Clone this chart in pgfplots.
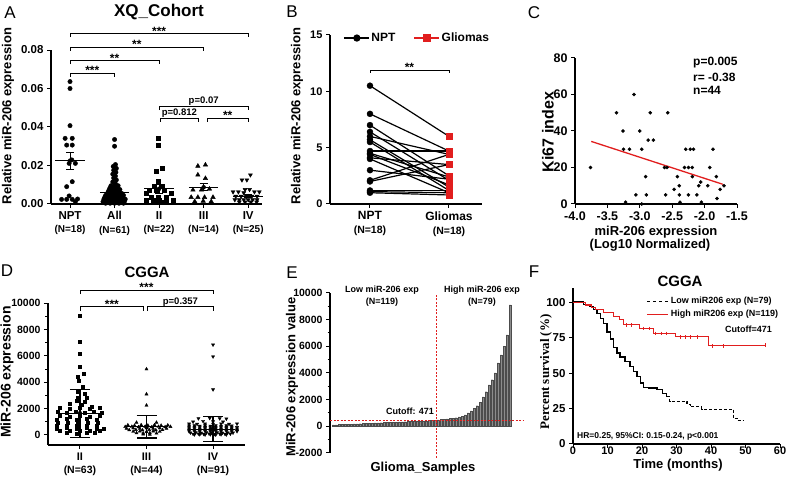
\documentclass[border=0pt]{standalone}
\usepackage{fontspec}
\setmainfont{Liberation Sans}
\newfontfamily\serifbf{Liberation Serif}
\usepackage{pgfplots}
\pgfplotsset{compat=1.18}
\newcommand{\fs}[1]{\fontsize{#1}{#1}\selectfont}
\definecolor{gpred}{RGB}{225,30,30}
\pgfplotsset{
  gp/.style={
    scale only axis, clip=false, anchor=south west,
    axis x line=bottom, axis y line=left,
    axis line style={-, line width=1.1pt},
    every tick/.style={black, line width=1pt},
    tick align=outside,
    major tick length=4pt, minor tick length=2.5pt,
    /pgf/number format/assume math mode=true,
    scaled ticks=false,
    ticklabel style={font=\fs{11}\bfseries},
    xticklabel style={align=center},
  },
  emean/.style={only marks, mark=none, black, error bars/y dir=both, error bars/y explicit,
     error bars/error bar style={line width=1pt, black}},
}
\begin{document}
\begin{tikzpicture}
\path[use as bounding box] (0,0) rectangle (794pt,481pt);

% ================= Panel A =================
\begin{axis}[gp, at={(51pt,277pt)}, width=211pt, height=154pt,
  xmin=-0.427, xmax=4.31, ymin=0, ymax=0.08,
  ytick={0,0.02,0.04,0.06,0.08},
  yticklabel style={/pgf/number format/.cd, fixed, fixed zerofill, precision=2},
  xtick={0,1,2,3,4},
  xticklabels={{NPT\\[2pt]{\fs{10}(N=18)}},{All\\[2pt]{\fs{10}(N=61)}},{II\\[2pt]{\fs{10}(N=22)}},{III\\[2pt]{\fs{10}(N=14)}},{IV\\[2pt]{\fs{10}(N=25)}}},
  ticklabel style={font=\fs{11.5}\bfseries},
]
\addplot[only marks, mark=*, mark size=2.2pt, black] coordinates {
(0,0.0636) (0,0.060) (0,0.0407) (-0.11,0.0341) (0.05,0.0341) (-0.075,0.0306) (0.05,0.0306)
(0.04,0.0229) (-0.02,0.0211) (0.12,0.0211) (0.05,0.0116) (-0.075,0.009) (-0.02,0.0042)
(-0.19,0.0024) (-0.075,0.0024) (0.05,0.0024) (0.17,0.0026) (0.12,0.0012)};
\addplot[only marks, mark=*, mark size=2.2pt, black] coordinates {
(1,0.0335) (1,0.030) (1.02,0.0205) (0.97,0.0195) (1.04,0.0185) (0.98,0.0175) (1.03,0.0165)
(0.96,0.0155) (1.02,0.0145) (0.98,0.0135) (1.04,0.0125) (0.96,0.0115) (1.02,0.0105)
(0.92,0.0095) (1.0,0.0095) (1.08,0.0095) (0.9,0.0085) (0.98,0.0085) (1.06,0.0085)
(0.88,0.0075) (0.96,0.0075) (1.04,0.0075) (1.12,0.0075) (0.86,0.0065) (0.94,0.0065)
(1.02,0.0065) (1.1,0.0065) (0.84,0.0055) (0.92,0.0055) (1.0,0.0055) (1.08,0.0055) (1.16,0.0055)
(0.8,0.0045) (0.88,0.0045) (0.96,0.0045) (1.04,0.0045) (1.12,0.0045) (1.2,0.0045)
(0.78,0.0035) (0.86,0.0035) (0.94,0.0035) (1.02,0.0035) (1.1,0.0035) (1.18,0.0035)
(0.76,0.0025) (0.84,0.0025) (0.92,0.0025) (1.0,0.0025) (1.08,0.0025) (1.16,0.0025) (1.24,0.0025)
(0.74,0.0012) (0.82,0.0012) (0.9,0.0012) (0.98,0.0012) (1.06,0.0012) (1.14,0.0012) (1.22,0.0012)
(0.8,0.0004) (0.9,0.0004) (1.0,0.0004) (1.1,0.0004) (1.2,0.0004)};
\addplot[only marks, mark=square*, mark size=2pt, black] coordinates {
(1.99,0.0341) (1.99,0.0306) (2.07,0.0185) (1.93,0.0168) (1.99,0.0116) (1.88,0.0094) (2.07,0.0094)
(1.78,0.0073) (1.93,0.0073) (2.12,0.0073) (1.71,0.0055) (2.27,0.0055) (1.82,0.0035) (1.97,0.0035)
(2.16,0.0035) (1.71,0.0021) (1.86,0.0021) (2.01,0.0021) (2.16,0.0021) (2.31,0.0021) (1.9,0.0008) (2.1,0.0008)};
\addplot[only marks, mark=triangle*, mark size=2.6pt, black] coordinates {
(2.87,0.0197) (3.04,0.0203) (2.87,0.0151) (3.04,0.0133) (2.76,0.0073) (2.95,0.0073) (3.13,0.0078)
(2.72,0.0035) (2.87,0.0035) (3.02,0.0035) (3.21,0.0035) (2.8,0.0013) (2.99,0.0015) (3.17,0.0013)};
\addplot[only marks, mark=triangle*, mark size=2.3pt, mark options={rotate=180}, black] coordinates {
(4.05,0.0151) (3.86,0.0125) (3.97,0.0125) (3.93,0.0075) (4.03,0.0075) (3.66,0.0063) (3.78,0.0063)
(3.9,0.0058) (4.14,0.0063) (4.25,0.0063) (3.72,0.004) (3.84,0.004) (3.96,0.004) (4.08,0.004)
(4.2,0.004) (3.7,0.0022) (3.8,0.0022) (3.9,0.0022) (4.0,0.0022) (4.1,0.0022) (4.2,0.0022)
(3.8,0.001) (3.93,0.001) (4.06,0.001) (4.19,0.001)};
% means
\addplot[black, line width=1pt] coordinates {(-0.33,0.0225) (0.33,0.0225)};
\addplot[black, line width=1pt] coordinates {(0.67,0.0062) (1.33,0.0062)};
\addplot[black, line width=1pt] coordinates {(1.67,0.0079) (2.33,0.0079)};
\addplot[black, line width=1pt] coordinates {(2.67,0.0087) (3.33,0.0087)};
\addplot[black, line width=1pt] coordinates {(3.67,0.0041) (4.33,0.0041)};
\addplot[emean, error bars/error mark options={rotate=90, black, line width=1pt, mark size=4pt}] coordinates {
(0,0.0225) +- (0,0.0045) (1,0.0062) +- (0,0.0012) (2,0.0079) +- (0,0.0024)
(3,0.0087) +- (0,0.0017) (4,0.0041) +- (0,0.0008)};
% brackets
\draw[line width=0.8pt] (axis cs:0,0.0867) -- (axis cs:0,0.0888) -- (axis cs:4,0.0888) -- (axis cs:4,0.0867);
\node[anchor=base, inner sep=0pt, font=\fs{12}\bfseries, yshift=-2pt] at (axis cs:2,0.0888) {***};
\draw[line width=0.8pt] (axis cs:0,0.0795) -- (axis cs:0,0.0816) -- (axis cs:3,0.0816) -- (axis cs:3,0.0795);
\node[anchor=base, inner sep=0pt, font=\fs{12}\bfseries, yshift=-2pt] at (axis cs:1.5,0.0816) {**};
\draw[line width=0.8pt] (axis cs:0,0.0727) -- (axis cs:0,0.0748) -- (axis cs:2,0.0748) -- (axis cs:2,0.0727);
\node[anchor=base, inner sep=0pt, font=\fs{12}\bfseries, yshift=-2pt] at (axis cs:1,0.0748) {**};
\draw[line width=0.8pt] (axis cs:0,0.066) -- (axis cs:0,0.0681) -- (axis cs:1,0.0681) -- (axis cs:1,0.066);
\node[anchor=base, inner sep=0pt, font=\fs{12}\bfseries, yshift=-2pt] at (axis cs:0.5,0.0681) {***};
\draw[line width=0.8pt] (axis cs:2,0.0488) -- (axis cs:2,0.0509) -- (axis cs:4,0.0509) -- (axis cs:4,0.0488);
\node[anchor=base, inner sep=0pt, font=\fs{9.5}\bfseries, yshift=3pt] at (axis cs:3,0.0509) {p=0.07};
\draw[line width=0.8pt] (axis cs:2.03,0.0426) -- (axis cs:2.03,0.0447) -- (axis cs:2.88,0.0447) -- (axis cs:2.88,0.0426);
\node[anchor=base, inner sep=0pt, font=\fs{9.5}\bfseries, yshift=2.5pt] at (axis cs:2.455,0.0447) {p=0.812};
\draw[line width=0.8pt] (axis cs:3.08,0.0426) -- (axis cs:3.08,0.0447) -- (axis cs:4,0.0447) -- (axis cs:4,0.0426);
\node[anchor=base, inner sep=0pt, font=\fs{12}\bfseries, yshift=-2pt] at (axis cs:3.54,0.0447) {**};
\end{axis}

% ================= Panel B =================
\begin{axis}[gp, at={(330pt,277pt)}, width=152pt, height=169pt,
  xmin=-0.506, xmax=1.418, ymin=0, ymax=15,
  ytick={0,5,10,15},
  xtick={0,1},
  xticklabels={{NPT\\[2pt]{\fs{10.5}(N=18)}},{Gliomas\\[2pt]{\fs{10.5}(N=18)}}},
  xticklabel style={font=\fs{12}\bfseries},
  yticklabel style={font=\fs{11}\bfseries},
  legend style={at={(axis description cs:0.086,0.982)}, anchor=west, draw=none, fill=none,
     legend columns=2, font=\fs{12}\bfseries, inner sep=0pt,
     /tikz/every even column/.append style={column sep=16pt}},
  legend image code/.code={\draw[mark repeat=2,mark phase=2,#1] plot coordinates {(0pt,0pt) (13pt,0pt) (25pt,0pt)};},
]
\addlegendimage{black, line width=1.2pt, mark=*, mark size=3pt}
\addlegendentry{NPT}
\addlegendimage{gpred, line width=1.2pt, mark=square*, mark size=3pt}
\addlegendentry{Gliomas}
\addplot[black, line width=1.2pt] coordinates {(0,10.5) (1,6.0)};
\addplot[black, line width=1.2pt] coordinates {(0,8.0) (1,4.7)};
\addplot[black, line width=1.2pt] coordinates {(0,7.0) (1,2.5)};
\addplot[black, line width=1.2pt] coordinates {(0,6.4) (1,2.1)};
\addplot[black, line width=1.2pt] coordinates {(0,6.0) (1,4.4)};
\addplot[black, line width=1.2pt] coordinates {(0,5.7) (1,1.5)};
\addplot[black, line width=1.2pt] coordinates {(0,5.5) (1,1.2)};
\addplot[black, line width=1.2pt] coordinates {(0,4.7) (1,4.7)};
\addplot[black, line width=1.2pt] coordinates {(0,4.5) (1,2.4)};
\addplot[black, line width=1.2pt] coordinates {(0,4.4) (1,1.7)};
\addplot[black, line width=1.2pt] coordinates {(0,4.1) (1,3.5)};
\addplot[black, line width=1.2pt] coordinates {(0,4.0) (1,1.0)};
\addplot[black, line width=1.2pt] coordinates {(0,3.0) (1,2.2)};
\addplot[black, line width=1.2pt] coordinates {(0,2.1) (1,4.4)};
\addplot[black, line width=1.2pt] coordinates {(0,2.0) (1,3.5)};
\addplot[black, line width=1.2pt] coordinates {(0,1.2) (1,1.2)};
\addplot[black, line width=1.2pt] coordinates {(0,1.1) (1,1.0)};
\addplot[black, line width=1.2pt] coordinates {(0,1.0) (1,0.8)};
\addplot[only marks, mark=*, mark size=3pt, black] coordinates {
(0,10.5) (0,8.0) (0,7.0) (0,6.4) (0,6.0) (0,5.7) (0,5.5) (0,4.7) (0,4.5) (0,4.4) (0,4.1) (0,4.0)
(0,3.0) (0,2.1) (0,2.0) (0,1.2) (0,1.1) (0,1.0)};
\addplot[only marks, mark=square*, mark size=3pt, gpred] coordinates {
(1,6.0) (1,4.7) (1,2.5) (1,2.1) (1,4.4) (1,1.5) (1,1.2) (1,4.7) (1,2.4) (1,1.7) (1,3.5) (1,1.0)
(1,2.2) (1,4.4) (1,3.5) (1,1.2) (1,1.0) (1,0.8)};
\draw[line width=0.8pt] (axis cs:0,11.65) -- (axis cs:0,11.9) -- (axis cs:1,11.9) -- (axis cs:1,11.65);
\node[anchor=base, inner sep=0pt, font=\fs{12}\bfseries, yshift=-2pt] at (axis cs:0.5,11.9) {**};
\end{axis}

% ================= Panel C =================
\begin{axis}[gp, at={(575pt,277pt)}, width=162pt, height=146pt,
  xmin=-4, xmax=-1.5, ymin=0, ymax=80,
  xtick={-4,-3.5,-3,-2.5,-2,-1.5}, ytick={0,20,40,60,80},
  xticklabel style={/pgf/number format/.cd, fixed, fixed zerofill, precision=1},
  ticklabel style={font=\fs{12.5}\bfseries},
]
\addplot[only marks, mark=*, mark size=1.6pt, black] coordinates {
(-3.76,20) (-3.36,50) (-3.26,40) (-3.25,30) (-3.16,30) (-3.22,1) (-3.09,60) (-3.06,5)
(-3.0,40) (-2.97,0) (-2.97,30) (-2.91,15) (-2.90,5) (-2.87,35) (-2.84,50) (-2.79,35)
(-2.60,5) (-2.62,20) (-2.58,20) (-2.57,50) (-2.47,8) (-2.42,15) (-2.39,10) (-2.39,5)
(-2.38,1) (-2.31,20) (-2.29,30) (-2.25,5) (-2.25,20) (-2.22,30) (-2.19,20) (-2.19,15)
(-2.17,30) (-2.12,5) (-2.09,10) (-2.06,12) (-2.05,1) (-1.95,10) (-1.92,20) (-1.87,30)
(-1.82,15) (-1.81,3) (-1.76,8) (-1.70,10)};
\addplot[gpred, line width=1.3pt] coordinates {(-3.75,34.3) (-1.72,10.8)};
\end{axis}

% ================= Panel D =================
\begin{axis}[gp, at={(48pt,36pt)}, width=197pt, height=141.7pt,
  xmin=-0.48, xmax=2.48, ymin=-760, ymax=10000,
  ytick={0,2000,4000,6000,8000,10000}, minor y tick num=1,
  yticklabel style={/pgf/number format/.cd, 1000 sep={}},
  xtick={0,1,2},
  xticklabels={{II\\[2pt]{\fs{10.5}(N=63)}},{III\\[2pt]{\fs{10.5}(N=44)}},{IV\\[2pt]{\fs{10.5}(N=91)}}},
  ticklabel style={font=\fs{10.5}\bfseries},
  xticklabel style={font=\fs{11}\bfseries},
]
\addplot[only marks, mark=square*, mark size=1.5pt, black] coordinates {
(0,9050) (0,7100) (0,6150) (0,5150) (0.05,4650) (-0.03,4400) (-0.02,4100) (0.04,3650) (-0.03,3300)
(0.07,3150) (-0.04,2850) (0.1,2800) (-0.05,2600) (0.07,2550) (-0.15,2350) (0.03,2300) (0.18,2150)
(-0.3,2050) (-0.15,2000) (0,2050) (0.15,2000) (0.3,2050)
(-0.33,1750) (-0.2,1700) (-0.07,1750) (0.07,1700) (0.2,1750) (0.33,1700)
(-0.3,1450) (-0.15,1400) (0,1450) (0.15,1400) (0.3,1450)
(-0.35,1150) (-0.2,1200) (-0.05,1150) (0.1,1200) (0.25,1150)
(-0.33,900) (-0.18,950) (-0.03,900) (0.12,950) (0.27,900)
(-0.35,700) (-0.2,720) (-0.05,700) (0.1,720) (0.25,700)
(-0.35,500) (-0.2,520) (-0.05,480) (0.1,520) (0.25,500) (0.36,480)
(-0.3,330) (-0.15,350) (0,320) (0.15,350) (0.3,330)
(-0.2,150) (-0.05,130) (0.1,160) (0.22,140)};
\addplot[only marks, mark=triangle*, mark size=1.8pt, black] coordinates {
(1,5000) (1,3100) (1,2250) (0.85,950) (1.15,950)
(0.72,750) (0.82,720) (0.92,760) (1.02,730) (1.12,760) (1.22,720) (1.32,740)
(0.68,620) (0.78,640) (0.88,610) (0.98,640) (1.08,610) (1.18,640) (1.28,610) (1.36,630)
(0.7,500) (0.8,520) (0.9,490) (1.0,520) (1.1,490) (1.2,520) (1.3,500)
(0.74,380) (0.84,400) (0.94,370) (1.04,400) (1.14,370) (1.24,390)
(0.8,260) (0.9,280) (1.0,250) (1.1,280) (1.2,260)
(0.85,150) (0.95,130) (1.05,150) (1.15,130) (0.95,50) (1.05,40)};
\addplot[only marks, mark=triangle*, mark size=1.8pt, mark options={rotate=180}, black] coordinates {
(2,6850) (2,5950) (2,3450)
(1.78,1250) (1.95,1280) (2.1,1250) (2.2,1230)
(1.7,1000) (1.85,1050) (2.0,1020) (2.15,1000)
(1.64,850) (1.76,830) (1.88,860) (2.0,840) (2.12,860) (2.24,830) (2.36,850)
(1.64,700) (1.72,720) (1.8,690) (1.88,720) (1.96,690) (2.04,720) (2.12,690) (2.2,720) (2.28,700)
(1.64,580) (1.72,600) (1.8,570) (1.88,600) (1.96,570) (2.04,600) (2.12,570) (2.2,600) (2.28,580) (2.36,590)
(1.64,470) (1.72,490) (1.8,460) (1.88,490) (1.96,460) (2.04,490) (2.12,460) (2.2,490) (2.28,470) (2.36,480)
(1.64,370) (1.72,390) (1.8,360) (1.88,390) (1.96,360) (2.04,390) (2.12,360) (2.2,390) (2.28,370) (2.36,380)
(1.64,270) (1.72,290) (1.8,260) (1.88,290) (1.96,260) (2.04,290) (2.12,260) (2.2,290) (2.28,270) (2.36,280)
(1.66,170) (1.74,190) (1.82,160) (1.9,190) (1.98,160) (2.06,190) (2.14,160) (2.22,180) (2.3,170)
(1.7,80) (1.78,100) (1.86,70) (1.94,100) (2.02,70) (2.1,100) (2.18,70) (2.26,90)
(1.72,30) (1.8,40) (1.88,20) (1.96,40) (2.04,20) (2.12,40) (2.2,30)};
\addplot[black, line width=1.3pt] coordinates {(-0.33,1650) (0.33,1650)};
\addplot[black, line width=1.3pt] coordinates {(0.67,620) (1.33,620)};
\addplot[black, line width=1.3pt] coordinates {(1.67,440) (2.33,440)};
\addplot[emean, error bars/error bar style={line width=1.3pt}, error bars/error mark options={rotate=90, black, line width=1.3pt, mark size=10pt}] coordinates {
(0,1650) +- (0,1825) (1,620) +- (0,850) (2,440) +- (0,960)};
\draw[line width=0.8pt] (axis cs:0,10700) -- (axis cs:0,11010) -- (axis cs:2,11010) -- (axis cs:2,10700);
\node[anchor=base, inner sep=0pt, font=\fs{12}\bfseries, yshift=-2pt] at (axis cs:1,11010) {***};
\draw[line width=0.8pt] (axis cs:0,9440) -- (axis cs:0,9760) -- (axis cs:0.96,9760) -- (axis cs:0.96,9440);
\node[anchor=base, inner sep=0pt, font=\fs{12}\bfseries, yshift=-2pt] at (axis cs:0.48,9760) {***};
\draw[line width=0.8pt] (axis cs:1.02,9440) -- (axis cs:1.02,9760) -- (axis cs:2,9760) -- (axis cs:2,9440);
\node[anchor=base, inner sep=0pt, font=\fs{9.5}\bfseries, yshift=2pt] at (axis cs:1.51,9760) {p=0.357};
\end{axis}

% ================= Panel E =================
\begin{axis}[gp, at={(330pt,28pt)}, width=193pt, height=160pt,
  axis x line=none,
  xmin=0, xmax=64.33, ymin=-2000, ymax=10000,
  ytick={-2000,0,2000,4000,6000,8000,10000}, minor y tick num=1,
  yticklabel style={/pgf/number format/.cd, 1000 sep={}},
  ticklabel style={font=\fs{10.5}\bfseries},
]
\addplot[ybar, bar width=2pt, fill=black!45, draw=black!70, line width=0.3pt] coordinates {
(1,100) (2,115) (3,130) (4,140) (5,150) (6,160) (7,170) (8,180) (9,190) (10,200)
(11,210) (12,220) (13,230) (14,240) (15,250) (16,260) (17,270) (18,280) (19,290) (20,300)
(21,310) (22,320) (23,330) (24,340) (25,350) (26,360) (27,370) (28,380) (29,390) (30,400)
(31,410) (32,420) (33,435) (34,450) (35,465)
(36,490) (37,510) (38,530) (39,550) (40,580) (41,600) (42,650) (43,700) (44,750) (45,850)
(46,1000) (47,1150) (48,1350) (49,1550) (50,1800) (51,2200) (52,2600) (53,3100) (54,3500) (55,4000)
(56,4750) (57,5350) (58,6000) (59,6850) (60,9100)};
\addplot[gpred, line width=0.9pt, dash pattern=on 2pt off 1.5pt] coordinates {(0,471) (64.33,471)};
\addplot[gpred, line width=0.9pt, dash pattern=on 2pt off 1.5pt] coordinates {(35.5,-2375) (35.5,9850)};
\end{axis}

% ================= Panel F =================
\begin{axis}[gp, at={(573pt,37pt)}, width=207pt, height=156pt,
  xmin=0, xmax=60, ymin=0, ymax=110,
  xtick={0,10,20,30,40,50,60}, ytick={0,25,50,75,100},
  ticklabel style={font=\fs{11.5}\bfseries},
  xticklabel style={font=\fs{11}\bfseries, inner sep=1pt, yshift=2pt},
  legend style={at={(axis description cs:0.353,0.872)}, anchor=west, draw=none, fill=none,
     font=\fs{9}\bfseries, inner sep=0pt, row sep=1pt},
  legend cell align=left,
  legend image code/.code={\draw[#1] (0pt,0pt) -- (21pt,0pt);},
]
\addlegendimage{black, line width=1.6pt, dash pattern=on 3pt off 3pt}
\addlegendentry{Low miR206 exp (N=79)}
\addlegendimage{gpred, line width=1.1pt}
\addlegendentry{High miR206 exp (N=119)}
\addplot[const plot mark left, black, line width=1.5pt] coordinates {
(0,100) (3,98.5) (4.9,97) (5.9,95) (6.9,92) (7.9,88.5) (8.8,85) (9.8,79) (10.8,74) (11.7,68)
(12.7,64) (13.6,61.5) (15,58) (16.5,54.5) (17.5,51) (18.5,47.5) (19.5,43) (20.4,40) (22,39.5)
(24.3,38.5) (26,35.5) (27.1,33.4)};
\addplot[const plot mark left, black, line width=1.5pt, dash pattern=on 3pt off 2pt] coordinates {
(27.1,33.4) (28,30) (33,28) (34,26.3) (37.3,24.5) (46.5,18) (47.5,16.5) (49.4,16.5)};
\addplot[const plot mark left, gpred, line width=1.1pt] coordinates {
(0,100) (3.5,98) (5.4,96) (6.4,95) (8.8,93) (11.7,90) (13.6,87.5) (14.6,84) (19.4,81.5)
(23.3,78) (29.6,75.5) (39.2,69.2) (55.7,69.2)};
\addplot[only marks, mark=|, mark size=1.8pt, gpred, line width=0.8pt] coordinates {
(15.5,84) (17,84) (20.5,81.5) (22,81.5) (24,78) (25.5,78) (27,78) (31,75.5) (32.5,75.5) (34,75.5)
(36,75.5) (40.5,69.2) (43.5,69.2) (55.7,69.8)};
\end{axis}

% ================= Text =================
\node[anchor=base, inner sep=0pt, font=\fs{17}] at (10pt,462pt) {A};
\node[anchor=base, inner sep=0pt, font=\fs{17}] at (292pt,463pt) {B};
\node[anchor=base, inner sep=0pt, font=\fs{17}] at (534pt,462pt) {C};
\node[anchor=base, inner sep=0pt, font=\fs{17}] at (7pt,204pt) {D};
\node[anchor=base, inner sep=0pt, font=\fs{17}] at (292pt,202pt) {E};
\node[anchor=base, inner sep=0pt, font=\fs{17}] at (534pt,203pt) {F};

\node[anchor=base, inner sep=0pt, font=\fs{17}\bfseries] at (159pt,464pt) {XQ\_Cohort};
\node[rotate=90, inner sep=0pt, font=\fs{13}\bfseries] at (8pt,365pt) {Relative miR-206 expression};
\node[rotate=90, inner sep=0pt, font=\fs{13}\bfseries] at (297pt,365pt) {Relative miR-206 expression};

\node[rotate=90, inner sep=0pt, font=\fs{16}\bfseries] at (548pt,349pt) {Ki67 index};
\node[inner sep=0pt, font=\fs{13}\bfseries] at (656pt,249pt) {miR-206 expression};
\node[inner sep=0pt, font=\fs{13}\bfseries] at (650pt,236pt) {(Log10 Normalized)};
\node[anchor=west, inner sep=0pt, font=\fs{12}\bfseries] at (693pt,418pt) {p=0.005};
\node[anchor=west, inner sep=0pt, font=\fs{12}\bfseries] at (693pt,404pt) {r= -0.38};
\node[anchor=west, inner sep=0pt, font=\fs{12}\bfseries] at (693pt,391pt) {n=44};

\node[anchor=base, inner sep=0pt, font=\fs{15}\bfseries] at (147pt,203pt) {CGGA};
\node[rotate=90, inner sep=0pt, font=\fs{14}\bfseries] at (7pt,109pt) {MiR-206 expression};

\node[rotate=90, inner sep=0pt, font=\fs{13}\bfseries] at (292pt,104pt) {MiR-206 expression value};
\node[inner sep=0pt, font=\fs{13}\bfseries] at (423pt,13pt) {Glioma\_Samples};
\node[inner sep=0pt, font=\fs{9}\bfseries] at (382pt,191pt) {Low miR-206 exp};
\node[inner sep=0pt, font=\fs{9}\bfseries] at (382pt,179pt) {(N=119)};
\node[inner sep=0pt, font=\fs{9}\bfseries] at (482pt,191pt) {High miR-206 exp};
\node[inner sep=0pt, font=\fs{9}\bfseries] at (482pt,179pt) {(N=79)};
\node[inner sep=0pt, font=\fs{9}\bfseries] at (410pt,70pt) {Cutoff: 471};

\node[anchor=base, inner sep=0pt, font=\fs{15}\bfseries] at (680pt,194pt) {CGGA};
\node[rotate=90, inner sep=0pt, font=\serifbf\fs{13}\bfseries] at (546pt,109pt) {Percent survival (\%)};
\node[inner sep=0pt, font=\fs{13}\bfseries] at (678pt,16pt) {Time (months)};
\node[anchor=east, inner sep=0pt, font=\fs{9}\bfseries] at (772pt,152pt) {Cutoff=471};
\node[anchor=west, inner sep=0pt, font=\fs{8.5}\bfseries] at (577pt,45pt) {HR=0.25, 95\%CI: 0.15-0.24, p<0.001};
\end{tikzpicture}
\end{document}
